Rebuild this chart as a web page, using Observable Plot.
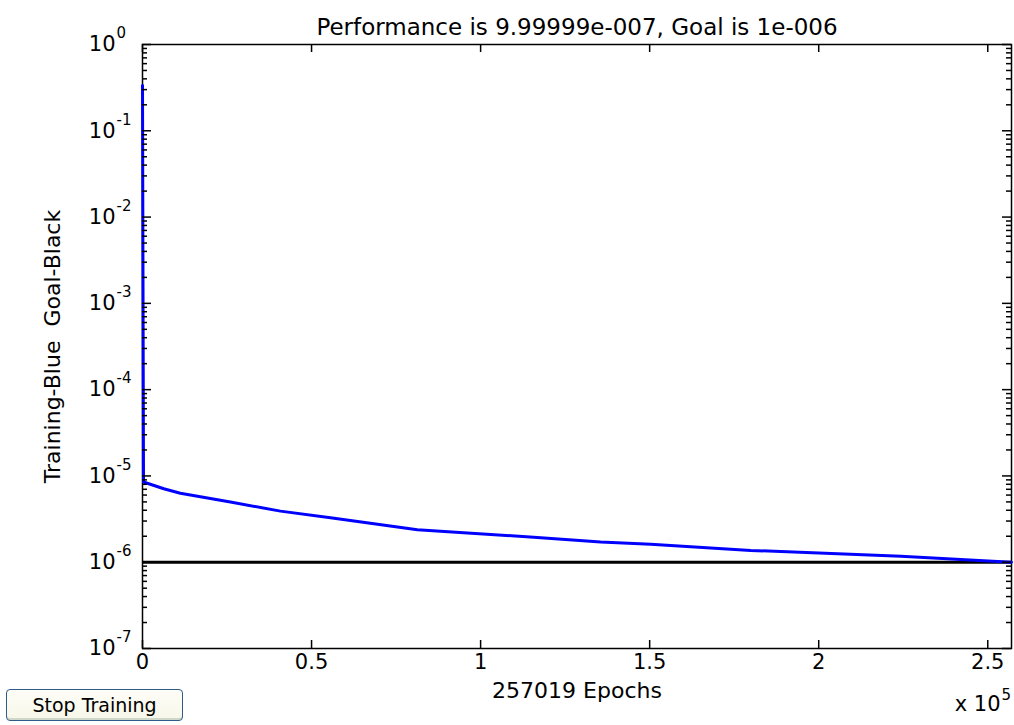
<!DOCTYPE html>
<html>
<head>
<meta charset="utf-8">
<script src="https://cdn.jsdelivr.net/npm/d3@7"></script>
<script src="https://cdn.jsdelivr.net/npm/@observablehq/plot@0.6"></script>
<style>
  html, body { margin: 0; padding: 0; background: #ffffff; }
  #wrap { position: relative; width: 1014px; height: 725px; overflow: hidden; background: #ffffff; }
  #stop {
    position: absolute; left: 6px; top: 689px; width: 177px; height: 32px;
    background: linear-gradient(#fefef8, #f6f6e8);
    border: 1px solid #2f5a8a; border-radius: 4px;
    box-shadow: inset 0 -2px 0 #cfd8c8;
    font-family: "DejaVu Sans", sans-serif; font-size: 19px; color: #000;
    padding: 0; margin: 0;
  }
</style>
</head>
<body>
<div id="wrap"><div id="chart"></div><button id="stop">Stop Training</button></div>
<script>
// ---- data ----
const epochs = [0, 300, 6300, 11200, 26000, 40800, 55600, 81300, 115700, 135500, 150300, 179900, 224300, 257019];
const performance = [0.335, 8.5e-6, 7.1e-6, 6.3e-6, 4.98e-6, 3.91e-6, 3.28e-6, 2.38e-6, 1.95e-6, 1.72e-6, 1.62e-6, 1.37e-6, 1.17e-6, 9.99999e-7];
const goal = [1e-6];
const totalEpochs = 257019;

const xTicks = [0, 50000, 100000, 150000, 200000, 250000];
const xTickLabels = ["0", "0.5", "1", "1.5", "2", "2.5"];
const yExponents = [0, -1, -2, -3, -4, -5, -6, -7];
const yMinorMultipliers = [2, 3, 4, 5, 6, 7, 8, 9];

const titleText = "Performance is 9.99999e-007, Goal is 1e-006";
const xLabelText = "257019 Epochs";
const yLabelText = "Training-Blue\u00a0\u00a0Goal-Black";

// ---- derived tables ----
const trainData = epochs.map((e, i) => ({epoch: e, perf: performance[i]}));
const yMajor = yExponents.map(k => Math.pow(10, k));
const yMinor = yExponents.filter(k => k < 0).flatMap(k => yMinorMultipliers.map(m => m * Math.pow(10, k)));

// ---- layout ----
const W = 1014, H = 725, ML = 142, MR = 3, MT = 44, MB = 77;
const FW = W - ML - MR, FH = H - MT - MB;   // frame size in pixels
const MAJ = 9, MIN = 5, XT = 8;             // inward tick lengths
const FS = 21;
const FF = "DejaVu Sans, sans-serif";
const tk = {stroke: "black", strokeWidth: 1.5};
const tx = {fill: "black", fontFamily: FF};

const chart = Plot.plot({
  width: W,
  height: H,
  marginLeft: ML,
  marginRight: MR,
  marginTop: MT,
  marginBottom: MB,
  x: {domain: [0, totalEpochs], axis: null},
  y: {type: "log", domain: [1e-7, 1], axis: null},
  marks: [
    Plot.frame({stroke: "black", strokeWidth: 1.5}),
    Plot.ruleY(goal, {stroke: "black", strokeWidth: 3}),
    Plot.line(trainData, {x: "epoch", y: "perf", stroke: "#0000ff", strokeWidth: 3}),
    // inward ticks (MATLAB style) on all four sides
    Plot.tickY(yMajor, {y: d => d, insetRight: FW - MAJ, ...tk}),
    Plot.tickY(yMajor, {y: d => d, insetLeft: FW - MAJ, ...tk}),
    Plot.tickY(yMinor, {y: d => d, insetRight: FW - MIN, ...tk}),
    Plot.tickY(yMinor, {y: d => d, insetLeft: FW - MIN, ...tk}),
    Plot.tickX(xTicks, {x: d => d, insetTop: FH - XT, ...tk}),
    Plot.tickX(xTicks, {x: d => d, insetBottom: FH - XT, ...tk}),
    // y tick labels 10^k
    Plot.text(yMajor, {y: d => d, text: () => "10", frameAnchor: "left", dx: -27, textAnchor: "end", fontSize: FS, ...tx}),
    Plot.text(yExponents, {y: k => Math.pow(10, k), text: k => String(k), frameAnchor: "left", dx: -26, dy: -11, textAnchor: "start", fontSize: 15, ...tx}),
    // x tick labels
    Plot.text(xTicks, {x: d => d, text: (d, i) => xTickLabels[i], frameAnchor: "bottom", dy: 20, textAnchor: "middle", fontSize: FS, ...tx}),
    Plot.text(["x 10"], {frameAnchor: "bottom-right", dx: -11, dy: 62, textAnchor: "end", fontSize: FS, ...tx}),
    Plot.text(["5"], {frameAnchor: "bottom-right", dx: -10, dy: 51, textAnchor: "start", fontSize: 15, ...tx}),
    // labels and title
    Plot.text([xLabelText], {frameAnchor: "bottom", dy: 49, textAnchor: "middle", fontSize: 22, ...tx}),
    Plot.text([yLabelText], {frameAnchor: "left", dx: -90, rotate: -90, textAnchor: "middle", fontSize: 22, ...tx}),
    Plot.text([titleText], {frameAnchor: "top", dy: -26, textAnchor: "middle", fontSize: 23, ...tx})
  ]
});
document.getElementById("chart").appendChild(chart);
</script>
</body>
</html>
